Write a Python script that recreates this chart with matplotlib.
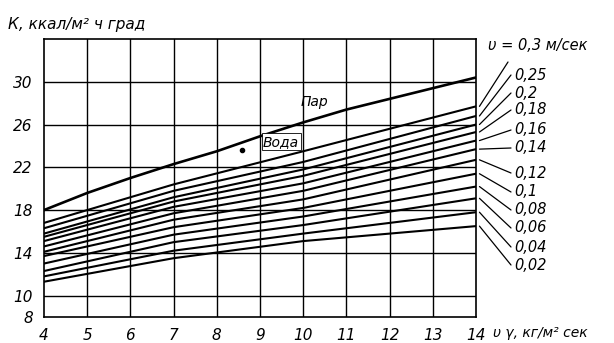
import matplotlib.pyplot as plt

# абсциссы точек
x_par = [4, 5, 6, 7, 8, 9, 10, 11, 12, 13, 14]
k_par = [18.0, 19.6, 21.0, 22.3, 23.5, 24.9, 26.2, 27.4, 28.4, 29.4, 30.4]

x_voda = [4, 7, 10, 14]
skorosti = ["0,3", "0,25", "0,2", "0,18", "0,16", "0,14", "0,12", "0,1", "0,08", "0,06", "0,04", "0,02"]
k_x4 = [16.8, 16.3, 15.8, 15.5, 15.1, 14.6, 14.1, 13.7, 13.0, 12.3, 11.8, 11.3]
k_x7 = [20.4, 19.8, 19.2, 18.8, 18.3, 17.7, 17.1, 16.4, 15.7, 15.0, 14.2, 13.5]
k_x10 = [23.5, 22.5, 21.8, 21.2, 20.5, 19.8, 19.0, 18.2, 17.4, 16.6, 15.8, 15.1]
k_x14 = [27.7, 26.8, 26.0, 25.3, 24.5, 23.7, 22.7, 21.4, 20.2, 19.1, 17.8, 16.5]

x_ticks = [4, 5, 6, 7, 8, 9, 10, 11, 12, 13, 14]
y_ticks = [8, 10, 14, 18, 22, 26, 30]
y_grid = [10, 14, 18, 22, 26, 30]

# вертикальные позиции подписей скоростей, пиксели сверху
label_py = [None, 75, 93, 110, 130, 148, 173, 192, 210, 228, 247, 265]

W, H = 614, 343
fig = plt.figure(figsize=(W / 100, H / 100), dpi=100)
ax = fig.add_axes([44 / W, 1 - 317 / H, (476 - 44) / W, (317 - 39) / H])
ax.set_xlim(4, 14)
ax.set_ylim(8, 34)

for y in y_grid:
    ax.axhline(y, color="black", lw=1.0, zorder=1)
for x in x_ticks[1:-1]:
    ax.axvline(x, color="black", lw=1.0, zorder=1)
for s in ax.spines.values():
    s.set_linewidth(1.2)

ax.plot(x_par, k_par, color="black", lw=1.9, zorder=3)
for i in range(len(skorosti)):
    ys = [k_x4[i], k_x7[i], k_x10[i], k_x14[i]]
    ax.plot(x_voda, ys, color="black", lw=1.5, zorder=3)

fnt = dict(style="italic", family="DejaVu Sans")
ax.set_xticks(x_ticks)
ax.set_yticks(y_ticks)
ax.set_xticklabels([str(v) for v in x_ticks], fontsize=11, **fnt)
ax.set_yticklabels([str(v) for v in y_ticks], fontsize=11, **fnt)
ax.tick_params(length=0, pad=8)

ax.text(10.25, 28.1, "Пар", fontsize=10, ha="center", va="center", zorder=5, **fnt)
ax.text(9.49, 24.4, "Вода", fontsize=10, ha="center", va="center", zorder=5,
        bbox=dict(boxstyle="square,pad=0.1", fc="white", ec="black", lw=0.6), **fnt)
ax.plot([8.58], [23.6], "o", color="black", ms=3, zorder=5)

fig.text(8 / W, 1 - 24 / H, "К, ккал/м² ч град", fontsize=11, va="center", ha="left", **fnt)
fig.text(493 / W, 1 - 333 / H, "υ γ, кг/м² сек", fontsize=10, va="center", ha="left", **fnt)
fig.text(488 / W, 1 - 46 / H, "υ = 0,3 м/сек", fontsize=10.5, va="center", ha="left", **fnt)

# выноски к подписям скоростей
for i in range(len(skorosti)):
    if i == 0:
        end = (508, H - 62)
    else:
        py = label_py[i]
        end = (511, H - py)
        fig.text(514 / W, 1 - py / H, skorosti[i], fontsize=10.5, va="center", ha="left", **fnt)
    ax.annotate("", xy=(14.08, k_x14[i]), xycoords="data", xytext=end,
                textcoords="figure pixels", annotation_clip=False,
                arrowprops=dict(arrowstyle="-", lw=0.9, color="black", shrinkA=0, shrinkB=0))

fig.savefig("out.png", dpi=100)
